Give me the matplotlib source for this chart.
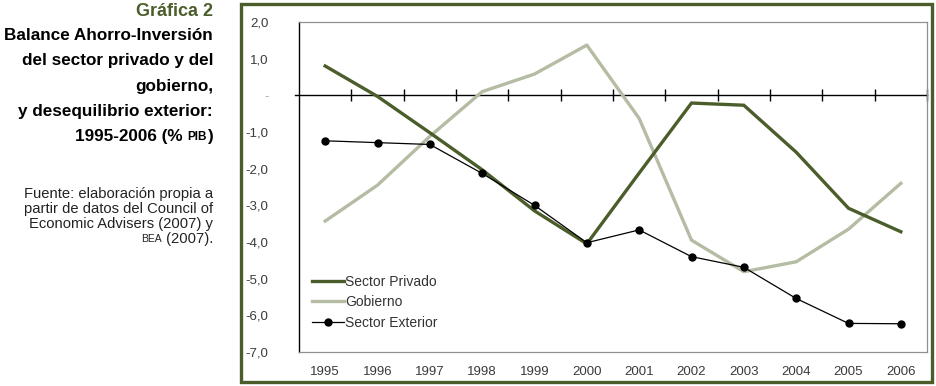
import matplotlib
matplotlib.use("Agg")
import matplotlib.pyplot as plt
from matplotlib.patches import Rectangle
from matplotlib.lines import Line2D
import numpy as np

plt.rcParams['font.family'] = ['Liberation Sans', 'DejaVu Sans']

years = ['1995', '1996', '1997', '1998', '1999', '2000',
         '2001', '2002', '2003', '2004', '2005', '2006']
privado = [0.80, -0.03, -1.02, -2.03, -3.15, -4.05,
           -2.12, -0.21, -0.27, -1.55, -3.08, -3.72]
gobierno = [-3.43, -2.45, -1.12, 0.10, 0.58, 1.37,
            -0.63, -3.95, -4.81, -4.54, -3.65, -2.40]
exterior = [-1.24, -1.29, -1.34, -2.13, -3.00, -4.02,
            -3.67, -4.40, -4.69, -5.54, -6.22, -6.23]
yticks = [2, 1, 0, -1, -2, -3, -4, -5, -6, -7]
ylabels = ['2,0', '1,0', '-', '-1,0', '-2,0', '-3,0', '-4,0', '-5,0', '-6,0', '-7,0']

verde = '#4b5d2a'
salvia = '#b4bda3'

W, H = 936, 386
fig = plt.figure(figsize=(W / 100, H / 100), dpi=100)

# marco exterior verde
fig.patches.append(Rectangle((241 / W, 1 - 382 / H), (932 - 241) / W, (382 - 4) / H,
                             transform=fig.transFigure, fill=False,
                             edgecolor=verde, linewidth=2.4))

ax = fig.add_axes([299 / W, 1 - 352 / H, 628 / W, 330 / H])
x = np.arange(len(years))

ax.plot(x, privado, color=verde, lw=2.4, solid_joinstyle='miter', label='Sector Privado', zorder=3)
ax.plot(x, gobierno, color=salvia, lw=2.4, label='Gobierno', zorder=2)
ax.plot(x, exterior, color='black', lw=0.9, marker='o', markersize=5, label='Sector Exterior', zorder=4)

# linea de cero con marcas entre categorias
ax.add_line(Line2D([-0.57, len(years) - 0.5], [0, 0], color='black', lw=1, clip_on=False, zorder=1))
ax.plot(x + 0.5, np.zeros(len(x)), linestyle='none', marker='|', markersize=9,
        markeredgewidth=1, color='black', zorder=1, clip_on=False)

ax.set_xlim(-0.5, len(years) - 0.5)
ax.set_ylim(-7, 2)
ax.set_xticks(x)
ax.set_xticklabels(years)
ax.set_yticks(yticks)
ax.set_yticklabels(ylabels)
ax.tick_params(axis='x', length=0, pad=10, labelsize=9.5, labelcolor='#3a3a3a')
ax.tick_params(axis='y', length=0, pad=22, labelsize=9.5, labelcolor='#3a3a3a')
for t, v in zip(ax.get_yticklabels(), yticks):
    if v == 0:
        t.set_color('#aaaaaa')

for s in ['top', 'right', 'bottom']:
    ax.spines[s].set_color('#909090')
    ax.spines[s].set_linewidth(0.9)
ax.spines['left'].set_color('black')
ax.spines['left'].set_linewidth(1)

ax.legend(loc='lower left', bbox_to_anchor=(0.02, 0.068), frameon=False, fontsize=10,
          handlelength=2.3, handletextpad=0.1, labelspacing=0.47, borderpad=0,
          borderaxespad=0, labelcolor='#333333')

# textos a la izquierda, alineados a la derecha
renderer = fig.canvas.get_renderer()
xr = 213


def linea(ypix, piezas):
    xc = xr
    for texto, size, weight, color in reversed(piezas):
        t = fig.text(xc / W, 1 - ypix / H, texto, ha='right', va='center',
                     fontsize=size, fontweight=weight, color=color)
        bb = t.get_window_extent(renderer)
        xc -= bb.width


tt = 12.3
ts = 10.6
linea(12, [('Gráfica 2', 13, 'bold', verde)])
linea(36, [('Balance Ahorro-Inversión', tt, 'bold', 'black')])
linea(61, [('del sector privado y del', tt, 'bold', 'black')])
linea(87, [('gobierno,', tt, 'bold', 'black')])
linea(112, [('y desequilibrio exterior:', tt, 'bold', 'black')])
linea(137, [('1995-2006 (% ', tt, 'bold', 'black'), ('PIB', 8.5, 'bold', 'black'),
            (')', tt, 'bold', 'black')])
linea(194, [('Fuente: elaboración propia a', ts, 'normal', '#222222')])
linea(209, [('partir de datos del Council of', ts, 'normal', '#222222')])
linea(224, [('Economic Advisers (2007) y', ts, 'normal', '#222222')])
linea(239, [('BEA', 7.5, 'normal', '#222222'), (' (2007).', ts, 'normal', '#222222')])

fig.savefig('out.png', dpi=100)
